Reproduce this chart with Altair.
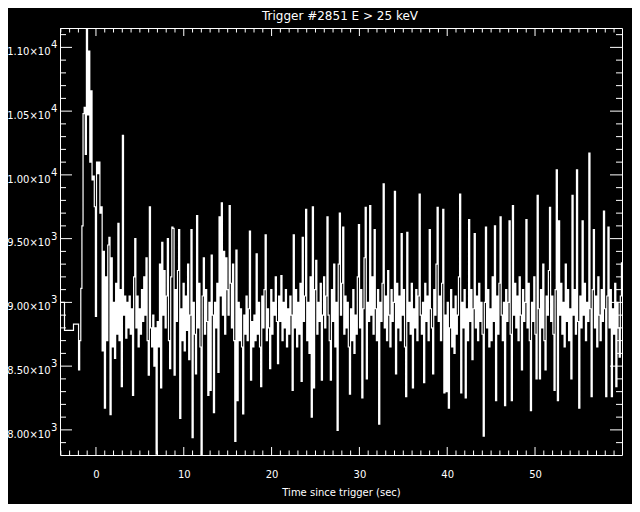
import altair as alt
import pandas as pd

FONT = "DejaVu Sans"
TITLE = "Trigger #2851  E > 25 keV"
X_TITLE = "Time since trigger (sec)"
Y_TITLE = "Counts/sec"

# 1.024 s pre-trigger bins (bin times, counts/sec)
PRE_TIME = [-4.096, -3.072]
PRE_RATE = [9000, 8780]

# finer bins from -2.048 s onward (counts/sec)
FINE_START = -2.048
FINE_STEP = 0.128
FINE_RATE = [
    8830, 8470, 8700, 9110, 9600, 10480, 10530, 10160, 11152, 10470,
    10970, 10100, 10660, 9960, 9990, 9750, 8890, 10100, 10010, 10100,
    9700, 9750, 8620, 9400, 8170, 9200, 8700, 9450, 9510, 8120,
    9350, 8650, 9000, 8560, 9150, 8750, 9620, 8700, 9100, 8340,
    10310, 8900, 9050, 8720, 9000, 8800, 9050, 8750, 8950, 8270,
    9200, 9500, 8800, 9050, 8650, 8950, 8750, 9100, 8850, 9200,
    8900, 9350, 8700, 8430, 9750, 8800, 8650, 8900, 8500, 8800,
    7810, 8850, 8650, 9300, 8330, 9470, 8900, 9250, 8800, 9050,
    9500, 8700, 8480, 9200, 9590, 9580, 8430, 9100, 8850, 9250,
    9570, 8090, 8950, 8700, 9150, 8620, 9050, 8780, 9300, 8550,
    8900, 9570, 7940, 9000, 8750, 8440, 9680, 8800, 9150, 8650,
    7803, 9050, 9350, 8750, 9100, 8850, 8270, 9000, 8310, 9370,
    8900, 8135, 9000, 8800, 9150, 8450, 9670, 9050, 9780, 8900,
    9400, 8750, 9350, 9100, 8900, 9760, 9150, 8800, 9300, 8700,
    7910, 9410, 8230, 9000, 8700, 8950, 8650, 8125, 8900, 8750,
    9050, 8700, 8950, 9560, 8390, 8850, 8650, 8900, 8700, 9380,
    8750, 9000, 8650, 8340, 9050, 8800, 9100, 9530, 8700, 8950,
    8800, 8480, 9100, 8750, 9000, 8900, 9200, 8850, 8520, 9050,
    8850, 9210, 8700, 9000, 8800, 9100, 8650, 8950, 8750, 9050,
    8900, 8310, 9530, 8800, 9100, 8650, 9000, 8750, 9150, 8380,
    9510, 8850, 9050, 9730, 8700, 9000, 8600, 9200, 8100, 9750,
    8330, 9100, 9330, 8750, 9000, 8850, 9150, 8390, 8900, 9200,
    8800, 9050, 9670, 8900, 8700, 8390, 9100, 8850, 9300, 8650,
    9000, 7995, 9300, 9700, 8900, 9150, 9590, 8750, 9050, 8800,
    9000, 8650, 8280, 8950, 8700, 9100, 8600, 8900, 8750, 9200,
    9610, 8800, 9100, 8250, 8950, 9350, 9745, 8400, 9000, 8850,
    9760, 8900, 9200, 8750, 9570, 8950, 8700, 9100, 8045, 9000,
    8850, 9150, 9930, 8800, 9050, 8700, 9250, 8900, 8650, 9100,
    8850, 9000, 9870, 8440, 9150, 8800, 9050, 8700, 9540, 8900,
    9100, 8650, 8260, 9550, 8850, 9000, 8750, 9150, 8330, 8950,
    8800, 9100, 8700, 9050, 9850, 8900, 8750, 9000, 8370, 9150,
    8850, 9050, 8700, 9570, 8950, 8800, 8440, 9100, 8900, 9300,
    9745, 8850, 9050, 8700, 9150, 9730, 8290, 8900, 8300, 9000,
    8170, 8800, 9100, 8650, 8950, 8600, 9050, 8750, 8900, 9200,
    9850, 8290, 9000, 8800, 9100, 8250, 8950, 8700, 9650, 8850,
    9100, 8550, 8950, 9540, 8800, 9050, 8700, 9150, 8850, 9000,
    8750, 7950, 9000, 9590, 8800, 9100, 8650, 8950, 8700, 9200,
    8850, 9600, 8230, 9050, 8750, 9150, 9670, 8900, 8700, 9000,
    8190, 9100, 8850, 9000, 9640, 8750, 8230, 9760, 8900, 9150,
    8800, 9050, 8700, 9200, 8900, 8470, 9100, 8850, 9000, 9650,
    8800, 9150, 8700, 8150, 9000, 8850, 9200, 8750, 8400, 9840,
    8950, 8400, 9100, 8800, 9300, 8700, 8470, 9050, 8900, 9250,
    9745, 8850, 9050, 8750, 8310, 9100, 10040, 8230, 9640, 8900,
    9150, 8750, 9000, 8650, 9300, 8850, 9100, 8700, 8950, 8400,
    9840, 8900, 9100, 8750, 10040, 8850, 8170, 9050, 8800, 9640,
    8900, 9150, 8700, 9000, 8850, 10170, 8950, 8260, 9100, 9570,
    8800, 9050, 8650, 9200, 8900, 8700, 9100, 8850, 9715, 8950,
    8260, 9050, 9590, 8800, 9100, 8260, 8950, 8750, 9150, 8340,
    9000, 8800, 8570, 9050, 9310,
]

X_DOMAIN = [-4.096, 59.904]
Y_DOMAIN = [7803, 11152]

X_MAJOR = [0, 10, 20, 30, 40, 50]
X_MINOR = [t for t in range(-4, 60) if t % 10 != 0]
Y_MAJOR = [8000, 8500, 9000, 9500, 10000, 10500, 11000]
Y_MINOR = [v for v in range(7900, 11200, 100) if v % 500 != 0]
Y_MANTISSA = ["8.00×10", "8.50×10", "9.00×10", "9.50×10", "1.00×10", "1.05×10", "1.10×10"]
Y_EXPONENT = ["3", "3", "3", "3", "4", "4", "4"]

W, H = 562, 427
X_MAJ_LEN, X_MIN_LEN = 8, 4.5
Y_MAJ_LEN, Y_MIN_LEN = 12, 6

times = PRE_TIME + [round(FINE_START + FINE_STEP * i, 3) for i in range(len(FINE_RATE))]
rates = PRE_RATE + FINE_RATE
df = pd.DataFrame({"t": times, "rate": rates})

xs = alt.Scale(domain=X_DOMAIN, nice=False, zero=False)
ys = alt.Scale(domain=Y_DOMAIN, nice=False, zero=False)

x_axis = alt.Axis(
    values=X_MAJOR, format="d", ticks=False, tickSize=0, domain=False, grid=False,
    labelColor="white", labelFont=FONT, labelFontSize=10, labelPadding=14.5,
    labelFlush=False,
    title=X_TITLE, titleColor="white", titleFont=FONT, titleFontSize=10,
    titleFontWeight="normal", titleY=40, titleBaseline="alphabetic",
)
y_axis = alt.Axis(labels=False, ticks=False, domain=False, grid=False, title=None)

X = alt.X("t:Q", scale=xs, axis=x_axis)
Y = alt.Y("rate:Q", scale=ys, axis=y_axis)

line = alt.Chart(df).mark_line(
    interpolate="step", color="white", strokeWidth=1.2, clip=True
).encode(x=X, y=Y)


def xticks(vals, y0, y1):
    return alt.Chart(pd.DataFrame({"t": vals})).mark_rule(
        color="white", strokeWidth=1
    ).encode(x=X, y=alt.value(y0), y2=alt.value(y1))


def yticks(vals, x0, x1):
    return alt.Chart(pd.DataFrame({"rate": vals})).mark_rule(
        color="white", strokeWidth=1
    ).encode(y=Y, x=alt.value(x0), x2=alt.value(x1))


tick_layers = [
    xticks(X_MAJOR, H, H - X_MAJ_LEN),
    xticks(X_MINOR, H, H - X_MIN_LEN),
    xticks(X_MAJOR, 0, X_MAJ_LEN),
    xticks(X_MINOR, 0, X_MIN_LEN),
    yticks(Y_MAJOR, 0, Y_MAJ_LEN),
    yticks(Y_MINOR, 0, Y_MIN_LEN),
    yticks(Y_MAJOR, W, W - Y_MAJ_LEN),
    yticks(Y_MINOR, W, W - Y_MIN_LEN),
]

ylab_df = pd.DataFrame({"rate": Y_MAJOR, "mant": Y_MANTISSA, "expo": Y_EXPONENT})
mant = alt.Chart(ylab_df).mark_text(
    align="right", baseline="alphabetic", dy=7.7, font=FONT, fontSize=10, color="white"
).encode(y=Y, x=alt.value(-9.5), text="mant:N")
expo = alt.Chart(ylab_df).mark_text(
    align="left", baseline="alphabetic", dy=1, font=FONT, fontSize=10, color="white"
).encode(y=Y, x=alt.value(-9), text="expo:N")

title = alt.Chart(pd.DataFrame({"title": [TITLE]})).mark_text(
    align="center", baseline="alphabetic", font=FONT, fontSize=12, color="white"
).encode(x=alt.value(W / 2 - 1), y=alt.value(-8), text="title:N")

# y-axis title: sits at the very left edge, mostly outside the picture as in the original
ytitle = alt.Chart(pd.DataFrame({"ytitle": [Y_TITLE]})).mark_text(
    align="center", baseline="alphabetic", angle=270, font=FONT, fontSize=10, color="white"
).encode(x=alt.value(-54), y=alt.value(H / 2), text="ytitle:N")

chart = alt.layer(line, *tick_layers, mant, expo, title, ytitle).properties(
    width=W, height=H,
    autosize=alt.AutoSizeParams(type="none"),
    padding={"left": 52, "top": 20, "right": 10, "bottom": 49},
).configure(background="black").configure_view(stroke="white", strokeWidth=1, fill="black")

chart.save("out.html", embed_options={"renderer": "svg", "actions": False})
